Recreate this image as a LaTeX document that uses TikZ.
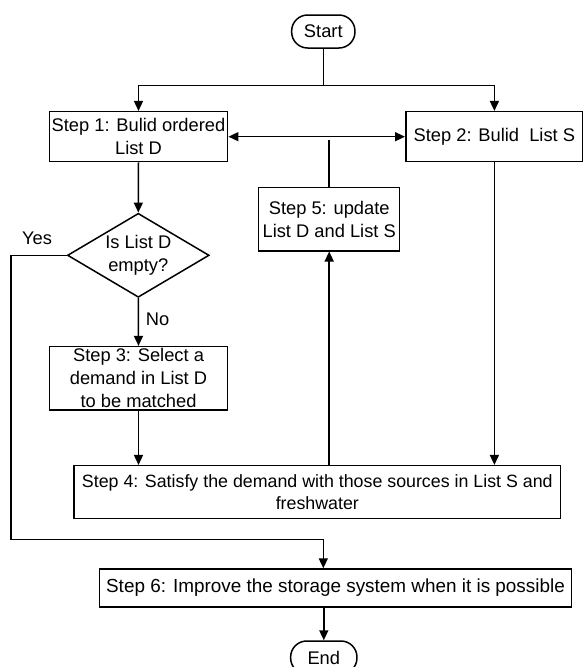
\documentclass[tikz,border=0pt]{standalone}
\usepackage{fontspec}
\setmainfont{Liberation Sans}
\usetikzlibrary{arrows.meta,shapes.geometric}
\begin{document}
\begin{tikzpicture}[x=1pt,y=-1pt,
  every node/.style={font=\fontsize{18.3}{23}\selectfont},
  box/.style={draw,line width=1.5pt,inner sep=0pt,align=center},
  term/.style={draw,line width=1.5pt,inner sep=0pt,rounded corners=16pt,align=center},
  conn/.style={line width=1.5pt},
  arr/.style={line width=1.5pt,-{Triangle[length=10pt,width=9pt]}},
  darr/.style={line width=1.5pt,{Triangle[length=10pt,width=9pt]}-{Triangle[length=10pt,width=9pt]}},
  lbl/.style={inner sep=0pt}
]
\useasboundingbox (0,0) rectangle (582,667);
\fill[white] (0,0) rectangle (582,667);

\node[term,minimum width=63.3pt,minimum height=33pt] (start) at (323.3,31.5) {Start};
\node[box,minimum width=178.4pt,minimum height=50pt] (s1) at (138.5,136.7) {Step 1: Bulid ordered\\List D};
\node[box,minimum width=177.3pt,minimum height=50pt] (s2) at (494.4,136.7) {Step 2: Bulid\ \ List S};
\node[box,minimum width=141pt,minimum height=63.5pt] (s5) at (329.2,219) {Step 5: update\\List D and List S};
\node[draw,diamond,line width=1.5pt,inner sep=0pt,minimum width=141.7pt,minimum height=84pt] (dia) at (138.3,255.3) {};
\node[lbl,align=center] (diatext) at (138.3,255.3) {Is List D\\empty?};
\node[box,minimum width=178.2pt,minimum height=63.3pt] (s3) at (138.5,378.3) {Step 3: Select a\\demand in List D\\to be matched};
\node[box,minimum width=486.5pt,minimum height=52.6pt,font=\fontsize{17.8}{22}\selectfont] (s4) at (317.3,492) {Step 4: Satisfy the demand with those sources in List S and\\freshwater};
\node[box,minimum width=472pt,minimum height=38pt,font=\fontsize{18.9}{23}\selectfont] (s6) at (335.5,588) {Step 6: Improve the storage system when it is possible};
\node[term,minimum width=66.3pt,minimum height=33pt] (end) at (323.8,657.5) {End};

\node[lbl] (yes) at (37,238) {Yes};
\node[lbl] (no) at (157.5,319) {No};

\coordinate (split) at (323.3,85.5);
\coordinate (j5) at (329.2,139.5);
\coordinate (c1) at (11,255.3);
\coordinate (c2) at (11,539.3);
\coordinate (c3) at (323.3,539.3);

\draw[conn] (start.south) -- (split);
\draw[arr] (split) -| (s1.north);
\draw[arr] (split) -| (s2.north);
\draw[darr] (s1.east) -- (s2.west);
\draw[conn] (s5.north) -- (j5);
\draw[arr] (s1.south) -- (dia.north);
\draw[arr] (dia.west) -- (c1) -- (c2) -- (c3) -- (c3 |- s6.north);
\draw[arr] (dia.south) -- (s3.north);
\draw[arr] (s3.south) -- (s3.south |- s4.north);
\draw[arr] (s5.south |- s4.north) -- (s5.south);
\draw[arr] (s2.south) -- (s2.south |- s4.north);
\draw[arr] (end.north |- s6.south) -- (end.north);
\end{tikzpicture}
\end{document}
